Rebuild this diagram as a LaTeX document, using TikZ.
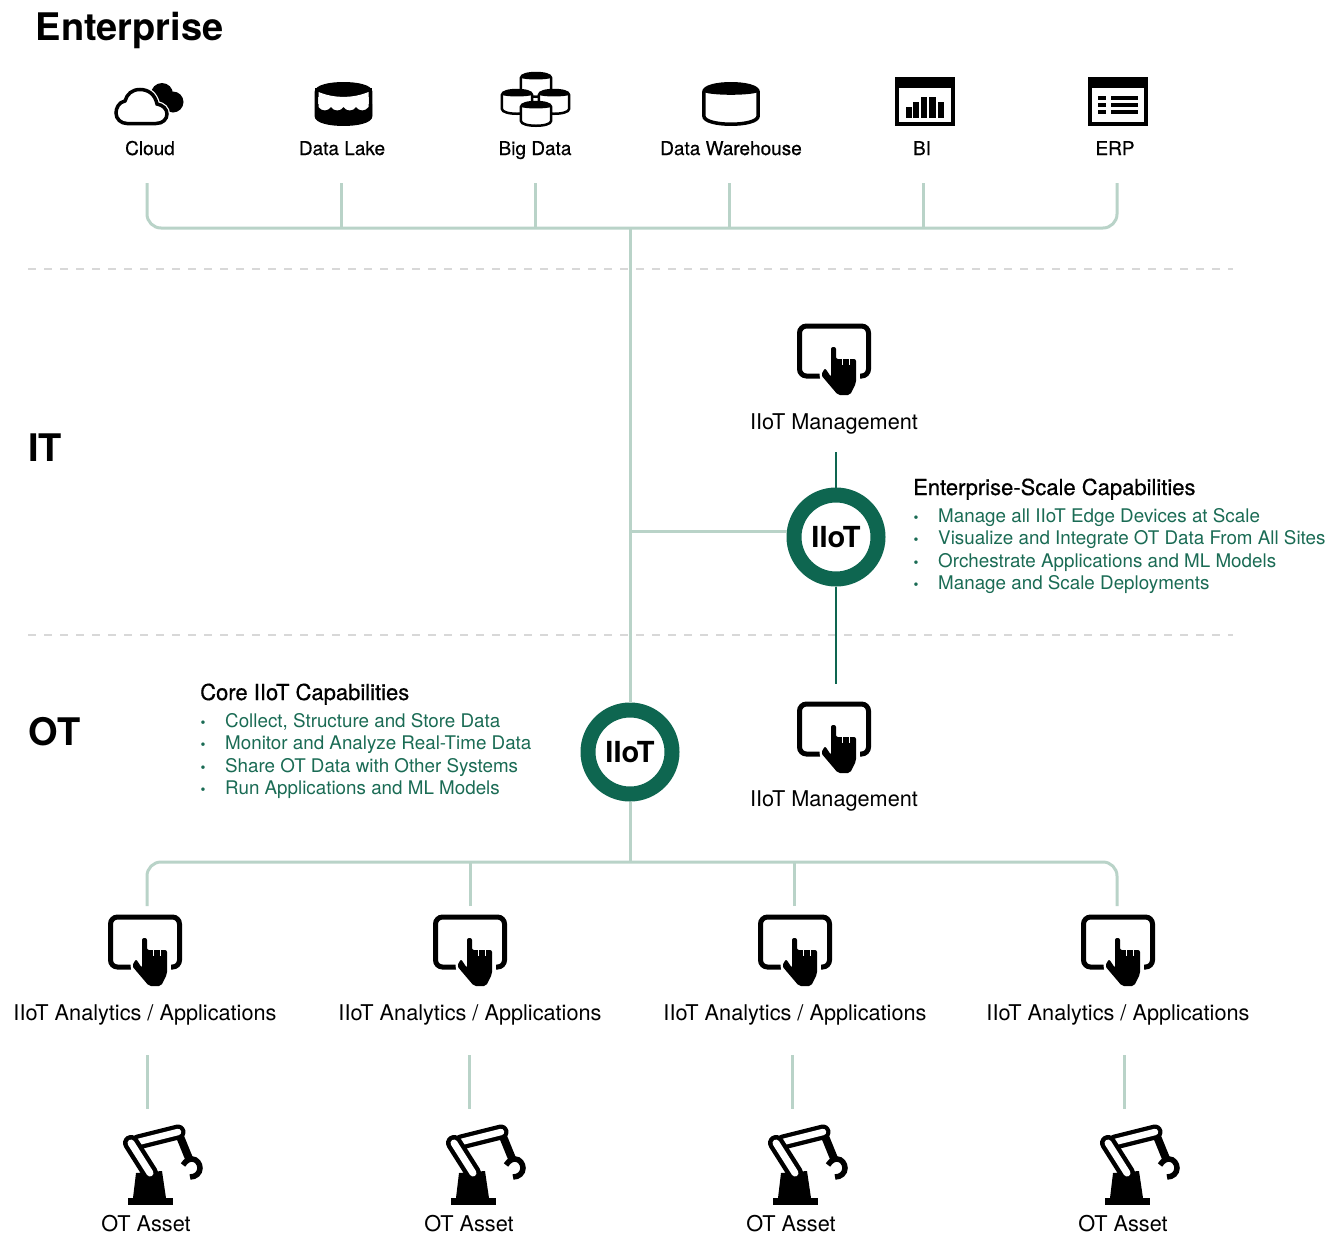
\documentclass[tikz,border=0pt]{standalone}
\usepackage{fontspec}
\setmainfont{TeX Gyre Heros}
\newfontfamily\medfont[FakeBold=0.6]{TeX Gyre Heros}
\usetikzlibrary{calc}

\definecolor{busgreen}{HTML}{B9D3C8}
\definecolor{hubgreen}{HTML}{0E6650}
\definecolor{listgreen}{HTML}{1A6B54}
\definecolor{zonegrey}{HTML}{D8D8D8}

\newcommand{\dotmark}{\makebox[25pt][l]{\hspace{0.5pt}\fontsize{14}{14}\selectfont•}}

\tikzset{
    busline/.style={draw=busgreen, line width=3pt},
    hubline/.style={draw=hubgreen, line width=2.8pt},
    zoneline/.style={draw=zonegrey, line width=1.5pt, dash pattern=on 8pt off 8pt},
    hubnode/.style={circle, draw=hubgreen, line width=15pt, minimum size=84pt, inner sep=0pt, fill=white, font=\fontsize{29}{29}\selectfont\bfseries},
    zonelabel/.style={anchor=base west, inner sep=0pt, font=\fontsize{38}{38}\selectfont\bfseries},
    iconlabel/.style={anchor=base, inner sep=0pt, font=\fontsize{19}{19}\medfont},
    toollabel/.style={anchor=base, inner sep=0pt, font=\fontsize{21.7}{21.7}\selectfont},
    listhead/.style={anchor=base west, inner sep=0pt, font=\fontsize{22}{22}\medfont},
    listitem/.style={anchor=base west, inner sep=0pt, text=listgreen, font=\fontsize{18.8}{18.8}\selectfont},
    pics/drum/.style={code={
        \draw[fill=white] (-28,9) .. controls (-28,3) and (-14,0) .. (0,0) .. controls (14,0) and (28,3) .. (28,9) -- (28,35) .. controls (28,41) and (14,44) .. (0,44) .. controls (-14,44) and (-28,41) .. (-28,35) -- cycle;
        \fill (-28,9) .. controls (-28,3) and (-14,0) .. (0,0) .. controls (14,0) and (28,3) .. (28,9) .. controls (20,13) and (-20,13) .. (-28,9) -- cycle;
    }},
    pics/window/.style={code={
        \draw[line width=3.5pt] (-28.2,1.8) rectangle (28.2,47.2);
        \fill (-30,0) rectangle (30,11);
    }},
    pics/hand/.style={code={
        \draw[line width=5pt, rounded corners=7pt] (-14,25) -- (-34.5,25) -- (-34.5,-25) -- (34.5,-25) -- (34.5,25) -- (26,25);
        \path[fill=black, rounded corners=2pt, preaction={draw=white, line width=5pt}] (-3,-4) -- (2,-4) -- (2,8) -- (22,8) -- (22,32) -- (16,44) -- (4,44) -- (-13,24) -- (-9,17) -- (-3,26) -- cycle;
        \draw[white, line width=1pt] (8.5,7) -- (8.5,14);
        \draw[white, line width=1pt] (15,7) -- (15,14);
    }},
    pics/robot/.style={code={
        \fill (-18,38) rectangle (27,45);
        \fill (-10,13) -- (16,11) -- (20,38) -- (-13,38) -- cycle;
        \draw[line width=8pt] (33,-26) -- (44,1);
        \draw[line width=5.5pt] (37,5) .. controls (40,0) and (44,-1) .. (46,-1) .. controls (51,-1) and (54,4) .. (54,8) .. controls (54,13) and (50,17) .. (44,17);
        \draw[line width=15pt, line cap=round] (-8,-18) -- (32,-28);
        \draw[white, line width=6.5pt, line cap=round] (-8,-18) -- (32,-28);
        \draw[line width=16pt, line cap=round] (-15,-17) -- (4,13);
        \draw[white, line width=7pt, line cap=round] (-15,-17) -- (4,13);
    }},
}

\begin{document}
\begin{tikzpicture}[x=1pt, y=-1pt]
    \useasboundingbox (0,0) rectangle (1337,1234);

    % zones
    \coordinate (zoneAL) at (28,269);
    \coordinate (zoneAR) at (1233,269);
    \coordinate (zoneBL) at (28,635);
    \coordinate (zoneBR) at (1233,635);
    \draw[zoneline] (zoneAL) -- (zoneAR);
    \draw[zoneline] (zoneBL) -- (zoneBR);
    \node[zonelabel] (enterprise) at (35.5,40) {Enterprise};
    \node[zonelabel] (it) at (28,461) {IT};
    \node[zonelabel] (ot) at (28,745) {OT};

    % enterprise icons
    \fill (162,94) circle (11);
    \fill (173,102) circle (10.5);
    \draw[fill=white, line width=3.5pt, preaction={draw=white, line width=6pt}] (127,123.5) -- (156,123.5) .. controls (163,123.5) and (167,119) .. (167,114) .. controls (167,109) and (163,105) .. (157,104) .. controls (155,94) and (148,89.5) .. (140,89.5) .. controls (132,89.5) and (127,94) .. (125,101) .. controls (119,102) and (116,108) .. (116,113) .. controls (116,119) and (121,123.5) .. (127,123.5) -- cycle;
    \pic[line width=3.5pt, xscale=0.97, yscale=0.92] at (343.5,83.75) {drum};
    \fill (315,88) rectangle (372,97);
    \fill (315,104) -- (372,104) -- (372,116) .. controls (372,122) and (357,124) .. (343.5,124) .. controls (330,124) and (315,122) .. (315,116) -- cycle;
    \fill[white] (318.5,92) .. controls (334,98.5) and (353,98.5) .. (368.5,92) -- (368.5,107) .. controls (365,111.5) and (359.5,111.5) .. (356,107) .. controls (353,111.5) and (346.5,111.5) .. (343.5,107) .. controls (340.5,111.5) and (334,111.5) .. (331,107) .. controls (327.5,111.5) and (322,111.5) .. (318.5,107) -- cycle;
    \pic[line width=2.5pt, scale=0.54] at (536,73) {drum};
    \pic[line width=2.5pt, scale=0.54] at (517,90) {drum};
    \pic[line width=2.5pt, scale=0.54] at (554,90) {drum};
    \pic[line width=2.5pt, scale=0.54] at (536,102) {drum};
    \pic[line width=3.5pt, xscale=0.97, yscale=0.92] at (731,83.75) {drum};
    \pic at (925,77) {window};
    \fill (906,107) rectangle (912,118);
    \fill (913,102) rectangle (919,118);
    \fill (921,97) rectangle (927,118);
    \fill (929,97) rectangle (936,118);
    \fill (938,102) rectangle (944,118);
    \pic at (1118,77) {window};
    \fill (1098,96) rectangle (1106,99.5);
    \fill (1098,103) rectangle (1106,106.5);
    \fill (1098,110) rectangle (1106,113.5);
    \fill (1111,96) rectangle (1138,99.5);
    \fill (1111,103) rectangle (1138,106.5);
    \fill (1111,110) rectangle (1138,113.5);

    \node[iconlabel] (cloud) at (150,155) {Cloud};
    \node[iconlabel] (lake) at (342,155) {Data Lake};
    \node[iconlabel] (bigdata) at (535,155) {Big Data};
    \node[iconlabel] (warehouse) at (731,155) {Data Warehouse};
    \node[iconlabel] (bi) at (922,155) {BI};
    \node[iconlabel] (erp) at (1115,155) {ERP};

    % enterprise bus
    \coordinate (stemA) at (147,183);
    \coordinate (stemB) at (341,183);
    \coordinate (stemC) at (535,183);
    \coordinate (stemD) at (729,183);
    \coordinate (stemE) at (923,183);
    \coordinate (stemF) at (1117,183);
    \coordinate (trunktop) at (630,228);
    \coordinate (branch) at (630,531);
    \draw[busline, rounded corners=14pt] (stemA) |- (trunktop) -| (stemF);
    \draw[busline] (stemB) -- (stemB |- trunktop);
    \draw[busline] (stemC) -- (stemC |- trunktop);
    \draw[busline] (stemD) -- (stemD |- trunktop);
    \draw[busline] (stemE) -- (stemE |- trunktop);

    % hubs
    \node[hubnode] (hubit) at (836,537) {IIoT};
    \node[hubnode] (hubot) at (630,752) {IIoT};
    \draw[busline] (trunktop) -- (hubot.north);
    \draw[busline] (branch) -- (branch -| hubit.west);

    % management
    \pic at (834,351) {hand};
    \node[toollabel] (mgmtit) at (834,429) {IIoT Management};
    \pic at (834,729) {hand};
    \node[toollabel] (mgmtot) at (834,806) {IIoT Management};
    \coordinate (hubtop) at (836,452);
    \coordinate (hubbot) at (836,684);
    \draw[hubline] (hubtop) -- (hubit.north);
    \draw[hubline] (hubit.south) -- (hubbot);

    % capabilities
    \node[listhead] (entcap) at (913,495) {Enterprise-Scale Capabilities};
    \node[listitem] (entA) at (913,522.5) {\dotmark Manage all IIoT Edge Devices at Scale};
    \node[listitem] (entB) at (913,544.5) {\dotmark Visualize and Integrate OT Data From All Sites};
    \node[listitem] (entC) at (913,567.5) {\dotmark Orchestrate Applications and ML Models};
    \node[listitem] (entD) at (913,589.5) {\dotmark Manage and Scale Deployments};
    \node[listhead] (corecap) at (200,700) {Core IIoT Capabilities};
    \node[listitem] (coreA) at (200,727.5) {\dotmark Collect, Structure and Store Data};
    \node[listitem] (coreB) at (200,749.5) {\dotmark Monitor and Analyze Real-Time Data};
    \node[listitem] (coreC) at (200,772.5) {\dotmark Share OT Data with Other Systems};
    \node[listitem] (coreD) at (200,794.5) {\dotmark Run Applications and ML Models};

    % site bus
    \coordinate (trunkbot) at (630,862);
    \coordinate (dropA) at (147,906);
    \coordinate (dropB) at (470,906);
    \coordinate (dropC) at (794,906);
    \coordinate (dropD) at (1117,906);
    \draw[busline] (hubot.south) -- (trunkbot);
    \draw[busline, rounded corners=14pt] (dropA) |- (trunkbot) -| (dropD);
    \draw[busline] (dropB) -- (dropB |- trunkbot);
    \draw[busline] (dropC) -- (dropC |- trunkbot);

    % analytics
    \pic at (145,942) {hand};
    \pic at (470,942) {hand};
    \pic at (795,942) {hand};
    \pic at (1118,942) {hand};
    \node[toollabel] (appA) at (145,1020) {IIoT Analytics / Applications};
    \node[toollabel] (appB) at (470,1020) {IIoT Analytics / Applications};
    \node[toollabel] (appC) at (795,1020) {IIoT Analytics / Applications};
    \node[toollabel] (appD) at (1118,1020) {IIoT Analytics / Applications};

    % assets
    \coordinate (linkAa) at (147,1055);
    \coordinate (linkAb) at (147,1109);
    \coordinate (linkBa) at (469,1055);
    \coordinate (linkBb) at (469,1109);
    \coordinate (linkCa) at (792,1055);
    \coordinate (linkCb) at (792,1109);
    \coordinate (linkDa) at (1124,1055);
    \coordinate (linkDb) at (1124,1109);
    \draw[busline] (linkAa) -- (linkAb);
    \draw[busline] (linkBa) -- (linkBb);
    \draw[busline] (linkCa) -- (linkCb);
    \draw[busline] (linkDa) -- (linkDb);
    \pic at (146,1160) {robot};
    \pic at (469,1160) {robot};
    \pic at (791,1160) {robot};
    \pic at (1123,1160) {robot};
    \node[toollabel] (assetA) at (146,1231.5) {OT Asset};
    \node[toollabel] (assetB) at (469,1231.5) {OT Asset};
    \node[toollabel] (assetC) at (791,1231.5) {OT Asset};
    \node[toollabel] (assetD) at (1123,1231.5) {OT Asset};
\end{tikzpicture}
\end{document}
